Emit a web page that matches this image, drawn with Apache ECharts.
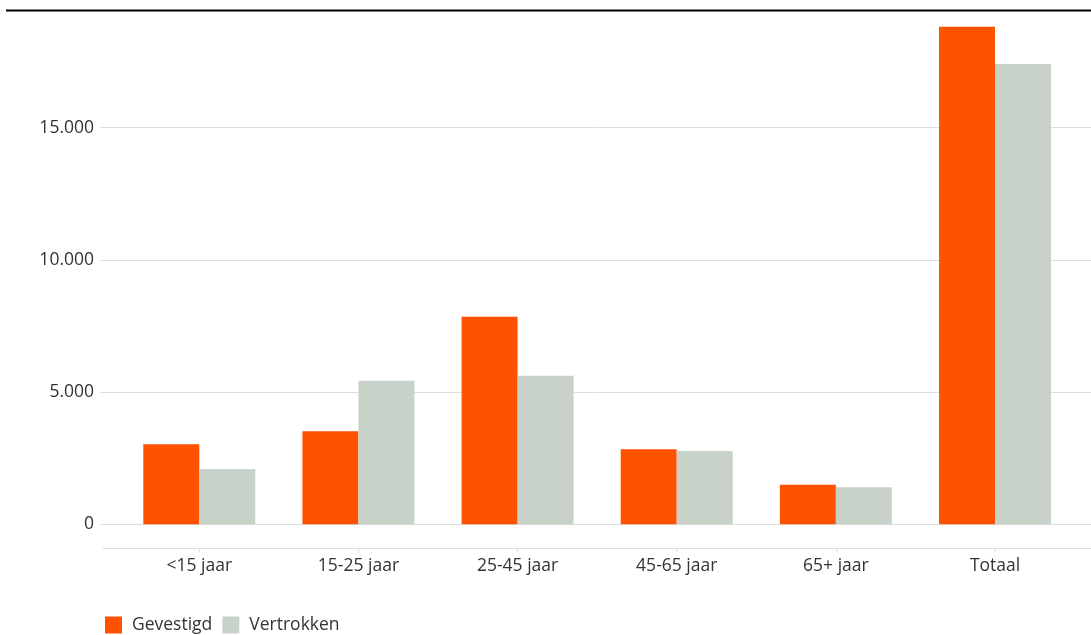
<!DOCTYPE html>
<html>
<head>
<meta charset="utf-8">
<script src="https://cdn.jsdelivr.net/npm/echarts@6/dist/echarts.min.js"></script>
<style>
html,body{margin:0;padding:0;background:#fff;}
#chart{width:1091px;height:635px;}
</style>
</head>
<body>
<div id="chart"></div>
<script>
const categories = ['<15 jaar', '15-25 jaar', '25-45 jaar', '45-65 jaar', '65+ jaar', 'Totaal'];
const gevestigd = [3030, 3520, 7850, 2840, 1500, 18820];
const vertrokken = [2090, 5430, 5620, 2775, 1400, 17410];
const yTicks = { min: 0, max: 19830, interval: 5000 };

const font = '"Open Sans", "Noto Sans", sans-serif';
const textColor = '#333';
const lineColor = '#dddddd';
const fs = 17.5;

const chart = echarts.init(document.getElementById('chart'), null, { renderer: 'canvas' });
chart.setOption({
  animation: false,
  backgroundColor: '#fff',
  textStyle: { fontFamily: font },
  graphic: [{
    type: 'line',
    shape: { x1: 6, y1: 10.5, x2: 1091, y2: 10.5 },
    style: { stroke: '#000', lineWidth: 2 },
    z: 100
  }],
  grid: [
    { left: 100, right: 0, top: 0, bottom: 110.7 },
    { left: 119.7, right: 16.4, top: 0, bottom: 110.7 },
    { left: 103, right: 0, top: 0, bottom: 110.7 }
  ],
  legend: {
    left: 105, top: 616, padding: 0,
    itemWidth: 17, itemHeight: 17, itemGap: 10,
    icon: 'rect',
    textStyle: { fontFamily: font, fontSize: fs, color: textColor, padding: [0, 0, 0, 5] },
    data: ['Gevestigd', 'Vertrokken']
  },
  xAxis: [
    { gridIndex: 0, type: 'category', data: categories, show: false },
    {
      gridIndex: 1, type: 'category', data: categories, offset: 24,
      axisLine: { show: false, onZero: false },
      axisTick: { show: true, alignWithLabel: true, length: 4, lineStyle: { color: lineColor } },
      axisLabel: { fontFamily: font, fontSize: fs, color: textColor, margin: 9 }
    },
    {
      gridIndex: 2, type: 'category', data: categories, offset: 24,
      axisLine: { show: true, onZero: false, lineStyle: { color: lineColor, width: 1 } },
      axisTick: { show: false }, axisLabel: { show: false }
    }
  ],
  yAxis: [
    {
      gridIndex: 0, type: 'value', min: yTicks.min, max: yTicks.max, interval: yTicks.interval,
      axisLine: { show: false }, axisTick: { show: false },
      axisLabel: {
        fontFamily: font, fontSize: fs, color: textColor, margin: 6, showMaxLabel: false,
        formatter: v => v === 0 ? '0' : String(v).replace(/\B(?=(\d{3})+(?!\d))/g, '.')
      },
      splitLine: { showMaxLine: false, lineStyle: { color: lineColor, width: 1 } }
    },
    { gridIndex: 1, type: 'value', min: yTicks.min, max: yTicks.max, interval: yTicks.interval, show: false },
    { gridIndex: 2, type: 'value', min: yTicks.min, max: yTicks.max, interval: yTicks.interval, show: false }
  ],
  series: [
    {
      name: 'Gevestigd', type: 'bar', xAxisIndex: 1, yAxisIndex: 1,
      data: gevestigd, barWidth: 56, barGap: '0%',
      itemStyle: { color: '#ff5200' }
    },
    {
      name: 'Vertrokken', type: 'bar', xAxisIndex: 1, yAxisIndex: 1,
      data: vertrokken, barWidth: 56, barGap: '0%',
      itemStyle: { color: '#c8d2c9' }
    }
  ]
});
</script>
</body>
</html>
